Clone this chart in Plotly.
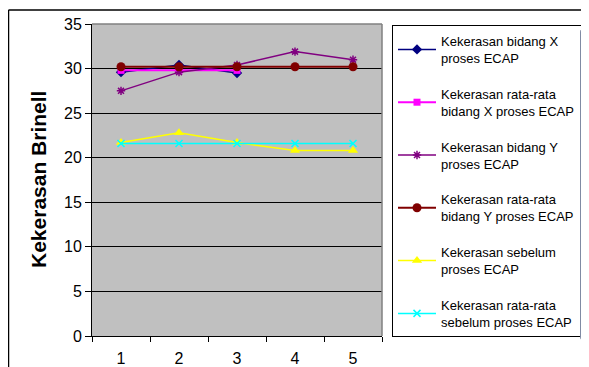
import plotly.graph_objects as go

categories = ["1", "2", "3", "4", "5"]
x_plane = [29.6, 30.4, 29.5, None, None]
x_plane_avg = [29.8, 29.8, 29.8, None, None]
y_plane = [27.5, 29.6, 30.4, 31.9, 31.0]
y_plane_avg = [30.2, 30.2, 30.2, 30.2, 30.2]
before = [21.7, 22.8, 21.7, 20.8, 20.8]
before_avg = [21.6, 21.6, 21.6, 21.6, 21.6]

names = [
    "Kekerasan bidang X<br>proses ECAP",
    "Kekerasan rata-rata<br>bidang X proses ECAP",
    "Kekerasan bidang Y<br>proses ECAP",
    "Kekerasan rata-rata<br>bidang Y proses ECAP",
    "Kekerasan sebelum<br>proses ECAP",
    "Kekerasan rata-rata<br>sebelum proses ECAP",
]
series = [x_plane, x_plane_avg, y_plane, y_plane_avg, before, before_avg]
colors = ["#000080", "#FF00FF", "#800080", "#800000", "#FFFF00", "#00FFFF"]
symbols = ["diamond", "square", "asterisk-open", "circle", "triangle-up", "x-thin-open"]
sizes = [8, 7, 7, 9, 9, 7]
widths = [1.5, 2, 1.5, 2, 1.5, 1.5]

FONT = "Liberation Sans, Arial, sans-serif"

fig = go.Figure()
for i, (nm, vals, c, s, sz, w) in enumerate(zip(names, series, colors, symbols, sizes, widths)):
    open_sym = s.endswith("open")
    fig.add_trace(go.Scatter(
        x=categories, y=vals, name=nm, mode="lines+markers",
        line=dict(color=c, width=w),
        marker=dict(symbol=s, size=sz, color=c,
                    line=dict(color=c, width=1.5 if open_sym else 0)),
        legendgroup=f"g{i}",
    ))

# page body has an 8px margin, so the figure is drawn at (8, 8)
OFF = 8
W, H = 589 - OFF, 367 - OFF
L, R, T, B = 92 - OFF, 207, 24 - OFF, 31
pw, ph = W - L - R, H - T - B

def px(xp):
    return (xp - OFF - L) / pw

def py(yp):
    return (H - B - (yp - OFF)) / ph

fig.update_layout(
    width=W, height=H,
    margin=dict(l=L, r=R, t=T, b=B, autoexpand=False),
    paper_bgcolor="white",
    plot_bgcolor="#C0C0C0",
    font=dict(family=FONT, size=16, color="black"),
    showlegend=True,
    legend=dict(
        x=px(392), y=py(25), xanchor="left", yanchor="top",
        bgcolor="white", bordercolor="black", borderwidth=1,
        font=dict(family=FONT, size=13, color="black"),
        tracegroupgap=16, itemwidth=38,
    ),
    xaxis=dict(
        type="category", range=[-0.5, 4.5],
        showgrid=False, showline=True, linecolor="black", linewidth=1,
        ticks="outside", tickson="boundaries", ticklen=5, tickcolor="black",
        ticklabelstandoff=8, zeroline=False,
        tickfont=dict(family=FONT, size=16),
    ),
    yaxis=dict(
        range=[0, 35], tickvals=[0, 5, 10, 15, 20, 25, 30, 35],
        showgrid=True, gridcolor="black", gridwidth=1,
        showline=True, linecolor="black", linewidth=1,
        ticks="outside", ticklen=6, tickcolor="black",
        zeroline=False,
        tickfont=dict(family=FONT, size=16),
    ),
    annotations=[dict(
        text="<b>Kekerasan Brinell</b>", textangle=-90,
        x=px(38), y=0.5, xref="paper", yref="paper",
        xanchor="center", yanchor="middle", showarrow=False,
        font=dict(family=FONT, size=21, color="black"),
    )],
    shapes=[
        dict(type="line", xref="paper", yref="paper", x0=0, x1=1, y0=1, y1=1,
             line=dict(color="#808080", width=1.5), layer="above"),
        dict(type="line", xref="paper", yref="paper", x0=1, x1=1, y0=0, y1=1,
             line=dict(color="#808080", width=1.5), layer="above"),
        dict(type="line", xref="paper", yref="paper", x0=px(8.5), x1=px(600),
             y0=py(10), y1=py(10), line=dict(color="black", width=1.5)),
        dict(type="line", xref="paper", yref="paper", x0=px(8.5), x1=px(8.5),
             y0=py(10), y1=py(380), line=dict(color="black", width=1.5)),
    ],
)

fig.write_html("out.html")
